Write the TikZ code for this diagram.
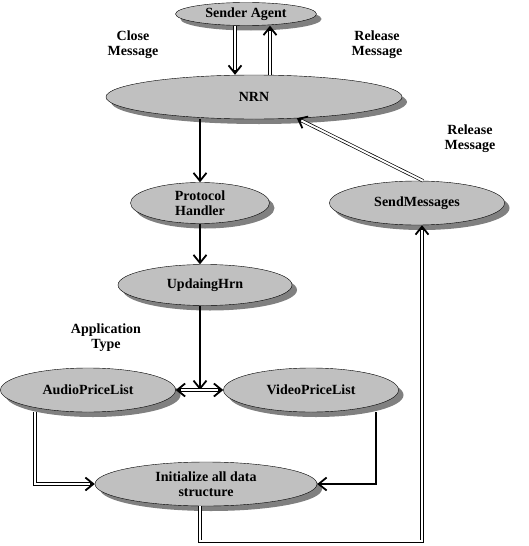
\documentclass[tikz,border=0pt]{standalone}
\usepackage{fontspec}
\setmainfont{Liberation Serif}
\usetikzlibrary{shapes,arrows.meta,positioning,shadows}
\definecolor{stategray}{HTML}{C0C0C0}
\definecolor{shadowgray}{HTML}{808080}
\begin{document}
\begin{tikzpicture}[x=1pt, y=-1pt,
    state/.style={ellipse, draw, fill=stategray, inner sep=0pt, align=center,
        font=\fontsize{14}{15}\selectfont\bfseries,
        drop shadow={shadow xshift=5pt, shadow yshift=-5pt, fill=shadowgray, opacity=1}},
    label/.style={align=center, font=\fontsize{14}{15}\selectfont\bfseries},
    arrow/.style={line width=1.5pt, -{Straight Barb[length=8pt,width=13pt,line width=1.8pt]}},
    dbl/.style={line width=3.4pt, -{Straight Barb[length=8pt,width=13pt,line width=1.8pt]},
        postaction={draw=white, line width=2pt, -, shorten >=5pt}}
]
    \useasboundingbox (0,0) rectangle (528,546);

    \node[state, minimum width=141pt, minimum height=23pt] (sender) at (246,14) {Sender Agent};
    \node[state, minimum width=296pt, minimum height=44pt] (nrn) at (254,97) {NRN};
    \node[state, minimum width=139pt, minimum height=41pt] (handler) at (200,203) {Protocol\\Handler};
    \node[state, minimum width=175pt, minimum height=44pt] (send) at (417,203) {SendMessages};
    \node[state, minimum width=174pt, minimum height=41pt] (updating) at (205,285) {UpdaingHrn};
    \node[state, minimum width=175pt, minimum height=44pt] (audio) at (88,390) {AudioPriceList};
    \node[state, minimum width=175pt, minimum height=44pt] (video) at (311,390) {VideoPriceList};
    \node[state, minimum width=222pt, minimum height=44pt] (init) at (206,484) {Initialize all data\\structure};
    \coordinate (mid) at (200,390);

    \node[label] (close) at (133,45) {Close\\Message};
    \node[label] (release) at (377,45) {Release\\Message};
    \node[label] (release2) at (470,139) {Release\\Message};
    \node[label] (apptype) at (106,338) {Application\\Type};

    \draw[dbl] ([xshift=-11pt]sender.south) -- ([xshift=-11pt]sender.south |- nrn.north);
    \draw[dbl] ([xshift=24pt]sender.south |- nrn.north) -- ([xshift=24pt]sender.south);
    \draw[arrow] (handler.north |- nrn.south) -- (handler);
    \draw[arrow] (handler) -- (handler.south |- updating.north);
    \draw[arrow] (mid |- updating.south) -- (mid);
    \draw[dbl] (mid) -- (audio);
    \draw[dbl] (mid) -- (video);
    \draw[dbl] ([xshift=-53pt]audio.south) |- (init);
    \draw[arrow] ([xshift=65pt]video.south) |- (init);
    \draw[dbl] ([xshift=-6pt]init.south) -- ++(0,35) -| ([xshift=5pt]send.south);
    \draw[dbl] ([xshift=6pt]send.north) -- (nrn);
\end{tikzpicture}
\end{document}
